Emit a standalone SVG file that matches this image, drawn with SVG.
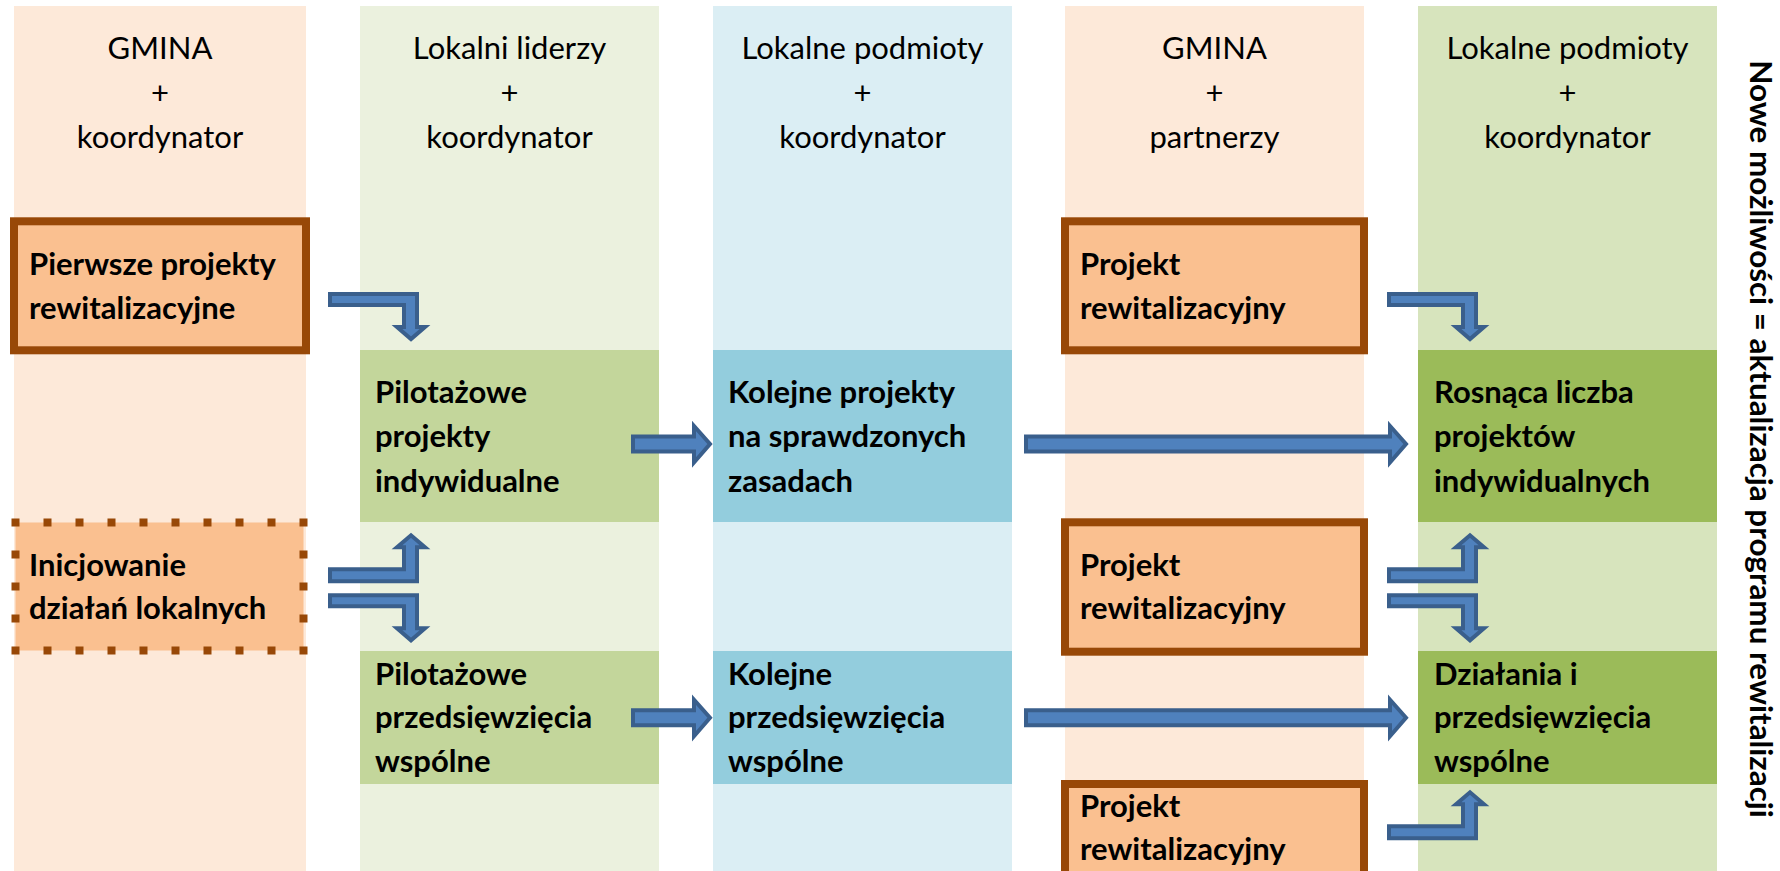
<svg xmlns="http://www.w3.org/2000/svg" width="1780" height="871" viewBox="0 0 1780 871">
<style>
.hdr{font-family:Lato,"Open Sans","Liberation Sans",sans-serif;font-size:31px;fill:#000;text-anchor:middle}
.lbl{font-family:Lato,"Open Sans","Liberation Sans",sans-serif;font-size:31px;font-weight:bold;fill:#000}
.side{font-family:Lato,"Open Sans","Liberation Sans",sans-serif;font-size:31.4px;font-weight:bold;fill:#000;text-anchor:middle}
.orange{fill:#FAC090;stroke:#984807;stroke-width:8}
.dotted{fill:#FAC090;stroke:#984807;stroke-width:8;stroke-dasharray:8 24;stroke-dashoffset:4}
.arrow{fill:#4F81BD;stroke:#3A5F8C;stroke-width:4;stroke-linejoin:miter}
</style>
<defs>
<path id="bentDown" d="M2,2 H89 V35 H97 L83,47 L69,35 H76 V13 H2 Z"/>
<path id="bentUp" d="M2,49 H89 V15 H97 L83,3 L69,15 H76 V37 H2 Z"/>
<path id="shortRight" d="M2,13.5 H63 V3 L79,21 L63,39.5 V28.5 H2 Z"/>
<path id="longRight" d="M2,13.5 H366 V3 L382,21 L366,39.5 V28.5 H2 Z"/>
</defs>
<rect width="1780" height="871" fill="#FFFFFF"/>
<g id="columns">
<rect x="14" y="6" width="292" height="865" fill="#FDE9D9"/>
<rect x="360" y="6" width="299" height="865" fill="#EBF1DE"/>
<rect x="713" y="6" width="299" height="865" fill="#DBEEF4"/>
<rect x="1065" y="6" width="299" height="865" fill="#FDE9D9"/>
<rect x="1418" y="6" width="299" height="865" fill="#D7E4BD"/>
</g>
<g id="headers">
<text class="hdr" x="160" y="59">GMINA</text>
<text class="hdr" x="160" y="104">+</text>
<text class="hdr" x="160" y="148">koordynator</text>
<text class="hdr" x="509.5" y="59">Lokalni liderzy</text>
<text class="hdr" x="509.5" y="104">+</text>
<text class="hdr" x="509.5" y="148">koordynator</text>
<text class="hdr" x="862.5" y="59">Lokalne podmioty</text>
<text class="hdr" x="862.5" y="104">+</text>
<text class="hdr" x="862.5" y="148">koordynator</text>
<text class="hdr" x="1214.5" y="59">GMINA</text>
<text class="hdr" x="1214.5" y="104">+</text>
<text class="hdr" x="1214.5" y="148">partnerzy</text>
<text class="hdr" x="1567.5" y="59">Lokalne podmioty</text>
<text class="hdr" x="1567.5" y="104">+</text>
<text class="hdr" x="1567.5" y="148">koordynator</text>
</g>
<g id="node-pierwsze">
<rect class="orange" x="14" y="221.3" width="292" height="129"/>
<text class="lbl" x="29" y="275">Pierwsze projekty</text>
<text class="lbl" x="29" y="318.5">rewitalizacyjne</text>
</g>
<g id="node-inicjowanie">
<rect class="dotted" x="15.5" y="522.5" width="288" height="128"/>
<text class="lbl" x="29" y="575.5">Inicjowanie</text>
<text class="lbl" x="29" y="619">działań lokalnych</text>
</g>
<g id="node-pilotazowe-projekty">
<rect x="360" y="350" width="299" height="172" fill="#C3D69B"/>
<text class="lbl" x="375" y="402.5">Pilotażowe</text>
<text class="lbl" x="375" y="447">projekty</text>
<text class="lbl" x="375" y="491.5">indywidualne</text>
</g>
<g id="node-pilotazowe-przedsiewziecia">
<rect x="360" y="651" width="299" height="133" fill="#C3D69B"/>
<text class="lbl" x="375" y="684.5">Pilotażowe</text>
<text class="lbl" x="375" y="728">przedsięwzięcia</text>
<text class="lbl" x="375" y="771.5">wspólne</text>
</g>
<g id="node-kolejne-projekty">
<rect x="713" y="350" width="299" height="172" fill="#93CDDD"/>
<text class="lbl" x="728" y="402.5">Kolejne projekty</text>
<text class="lbl" x="728" y="447">na sprawdzonych</text>
<text class="lbl" x="728" y="491.5">zasadach</text>
</g>
<g id="node-kolejne-przedsiewziecia">
<rect x="713" y="651" width="299" height="133" fill="#93CDDD"/>
<text class="lbl" x="728" y="684.5">Kolejne</text>
<text class="lbl" x="728" y="728">przedsięwzięcia</text>
<text class="lbl" x="728" y="771.5">wspólne</text>
</g>
<g id="node-projekt-1">
<rect class="orange" x="1065" y="221.3" width="299" height="129"/>
<text class="lbl" x="1080" y="275">Projekt</text>
<text class="lbl" x="1080" y="318.5">rewitalizacyjny</text>
</g>
<g id="node-projekt-2">
<rect class="orange" x="1065" y="522.3" width="299" height="129.4"/>
<text class="lbl" x="1080" y="575.5">Projekt</text>
<text class="lbl" x="1080" y="619">rewitalizacyjny</text>
</g>
<g id="node-projekt-3">
<rect class="orange" x="1065" y="784" width="299" height="120"/>
<text class="lbl" x="1080" y="817">Projekt</text>
<text class="lbl" x="1080" y="860">rewitalizacyjny</text>
</g>
<g id="node-rosnaca">
<rect x="1418" y="350" width="299" height="172" fill="#9BBB59"/>
<text class="lbl" x="1434" y="402.5">Rosnąca liczba</text>
<text class="lbl" x="1434" y="447">projektów</text>
<text class="lbl" x="1434" y="491.5">indywidualnych</text>
</g>
<g id="node-dzialania">
<rect x="1418" y="651" width="299" height="133" fill="#9BBB59"/>
<text class="lbl" x="1434" y="684.5">Działania i</text>
<text class="lbl" x="1434" y="728">przedsięwzięcia</text>
<text class="lbl" x="1434" y="771.5">wspólne</text>
</g>
<g id="connectors">
<use href="#bentDown" class="arrow" x="328" y="292"/>
<use href="#bentUp" class="arrow" x="328" y="532.3"/>
<use href="#bentDown" class="arrow" x="328" y="593.3"/>
<use href="#shortRight" class="arrow" x="631" y="423"/>
<use href="#shortRight" class="arrow" x="631" y="696.7"/>
<use href="#longRight" class="arrow" x="1024" y="423"/>
<use href="#longRight" class="arrow" x="1024" y="696.7"/>
<use href="#bentDown" class="arrow" x="1387" y="292"/>
<use href="#bentUp" class="arrow" x="1387" y="532.3"/>
<use href="#bentDown" class="arrow" x="1387" y="593.3"/>
<use href="#bentUp" class="arrow" x="1387" y="789.3"/>
</g>
<g id="side-label">
<text class="side" transform="translate(1750,439) rotate(90)">Nowe możliwości = aktualizacja programu rewitalizacji</text>
</g>
</svg>
